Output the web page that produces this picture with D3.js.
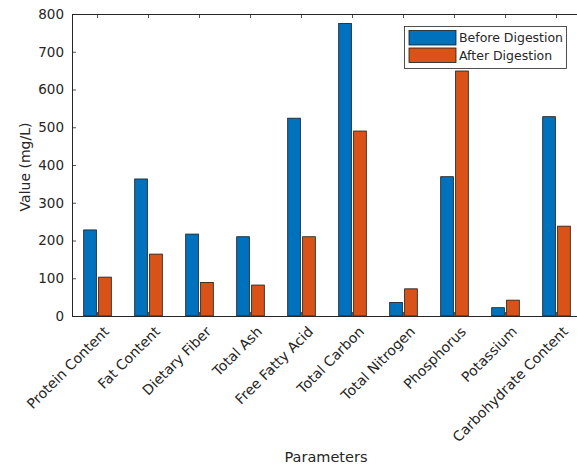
<!DOCTYPE html>
<html>
<head>
<meta charset="utf-8">
<script src="https://cdn.jsdelivr.net/npm/d3@7"></script>
<style>
  html, body { margin: 0; padding: 0; background: #fff; }
  svg { display: block; }
  text { font-family: "DejaVu Sans", sans-serif; fill: #262626; }
</style>
</head>
<body>
<script>
const categories = ["Protein Content", "Fat Content", "Dietary Fiber", "Total Ash", "Free Fatty Acid",
  "Total Carbon", "Total Nitrogen", "Phosphorus", "Potassium", "Carbohydrate Content"];
const seriesNames = ["Before Digestion", "After Digestion"];
const beforeValues = [228, 363, 217, 210, 524, 775, 36, 369, 22, 528];
const afterValues = [103, 164, 89, 82, 210, 490, 72, 649, 42, 238];
const yTicks = [0, 100, 200, 300, 400, 500, 600, 700, 800];
const colors = ["#0072BD", "#D95319"];
const xLabel = "Parameters";
const yLabel = "Value (mg/L)";

const W = 577, H = 465;
const mLeft = 72, mRight = 582, mTop = 14, mBottom = 316;

const svg = d3.select("body").append("svg").attr("width", W).attr("height", H);

const x0 = d3.scaleBand().domain(categories).range([mLeft, mRight]).padding(0);
const bw = x0.bandwidth();
const groupW = bw * (2 / 3.5);
const x1 = d3.scaleBand().domain(seriesNames).range([bw / 2 - groupW / 2, bw / 2 + groupW / 2])
  .paddingInner(0.15).paddingOuter(0.05);
const y = d3.scaleLinear().domain([0, 800]).range([mBottom, mTop]);

const data = categories.map((c, i) => ({ cat: c, vals: [beforeValues[i], afterValues[i]] }));

// bars
const g = svg.append("g");
data.forEach(d => {
  d.vals.forEach((v, j) => {
    g.append("rect")
      .attr("x", x0(d.cat) + x1(seriesNames[j]))
      .attr("y", y(v))
      .attr("width", x1.bandwidth())
      .attr("height", y(0) - y(v))
      .attr("fill", colors[j])
      .attr("stroke", "#1a1a1a")
      .attr("stroke-width", 0.8);
  });
});

// axes
const axisColor = "#262626";
const tickLen = 4;
const yAxisL = d3.axisLeft(y).tickValues(yTicks).tickSize(-tickLen).tickPadding(8);
const gl = svg.append("g").attr("transform", `translate(${mLeft},0)`).call(yAxisL);
gl.selectAll("text").style("font-size", "13.5px").attr("fill", axisColor);
const yAxisR = d3.axisRight(y).tickValues(yTicks).tickSize(-tickLen).tickFormat("");
svg.append("g").attr("transform", `translate(${mRight},0)`).call(yAxisR);
const xAxisB = d3.axisBottom(x0).tickSize(-tickLen).tickFormat("");
svg.append("g").attr("transform", `translate(0,${mBottom})`).call(xAxisB);
const xAxisT = d3.axisTop(x0).tickSize(-tickLen).tickFormat("");
svg.append("g").attr("transform", `translate(0,${mTop})`).call(xAxisT);
svg.selectAll(".domain").attr("stroke", axisColor).attr("stroke-width", 1);
svg.selectAll(".tick line").attr("stroke", axisColor).attr("stroke-width", 0.8);

// rotated x tick labels
svg.append("g").selectAll("text").data(categories).enter().append("text")
  .attr("transform", d => `translate(${x0(d) + bw / 2 + 9},${mBottom + 13}) rotate(-45)`)
  .attr("text-anchor", "end")
  .attr("dy", "0.35em")
  .style("font-size", "14px")
  .text(d => d);

// axis labels
svg.append("text")
  .attr("x", (mLeft + mRight) / 2 - 1).attr("y", 462)
  .attr("text-anchor", "middle")
  .style("font-size", "14.5px")
  .text(xLabel);
svg.append("text")
  .attr("transform", `translate(30,${(mTop + mBottom) / 2 + 2}) rotate(-90)`)
  .attr("text-anchor", "middle")
  .style("font-size", "14px")
  .text(yLabel);

// legend
const lg = svg.append("g");
lg.append("rect").attr("x", 404.5).attr("y", 26.5).attr("width", 162).attr("height", 42)
  .attr("fill", "#fff").attr("stroke", axisColor).attr("stroke-width", 0.8);
seriesNames.forEach((s, j) => {
  const ry = 30.5 + j * 17.5;
  lg.append("rect").attr("x", 409).attr("y", ry).attr("width", 47).attr("height", 14.5)
    .attr("fill", colors[j]).attr("stroke", "#1a1a1a").attr("stroke-width", 0.8);
  lg.append("text").attr("x", 459).attr("y", ry + 7.5).attr("dy", "0.35em")
    .style("font-size", "12.5px").text(s);
});
</script>
</body>
</html>
